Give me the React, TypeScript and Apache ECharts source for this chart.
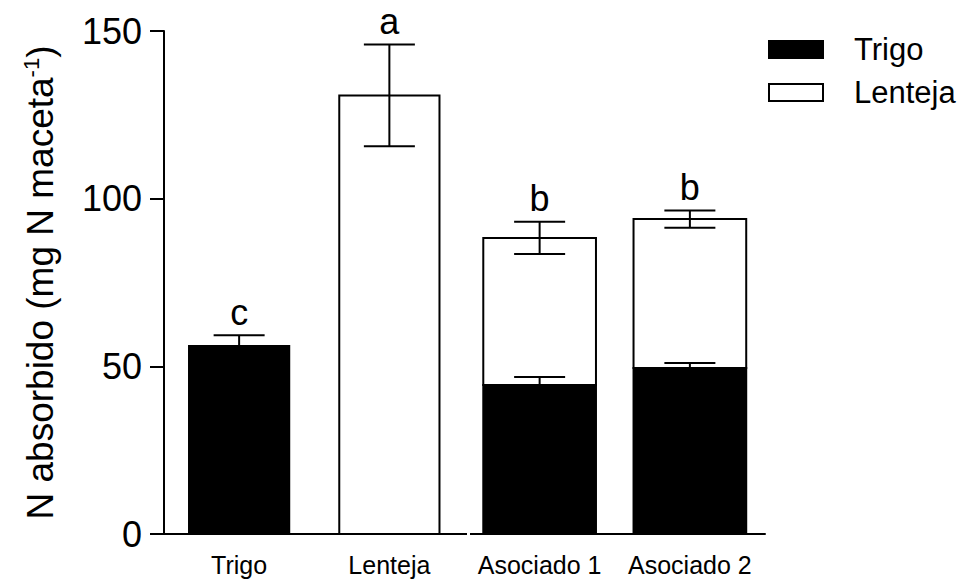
import React, { useEffect, useRef } from "react";
import * as echarts from "echarts";

const categories = ["Trigo", "Lenteja", "Asociado 1", "Asociado 2"];
const trigoValues: (number | null)[] = [56.1, null, 44.4, 49.5];
const trigoErrors: (number | null)[] = [3.2, null, 2.4, 1.5];
const lentejaValues: (number | null)[] = [null, 130.8, 43.9, 44.4];
const lentejaErrors: (number | null)[] = [null, 15.2, 4.8, 2.6];
const letters = ["c", "a", "b", "b"];
const yTicks = [0, 50, 100, 150];

const FONT = "'Liberation Sans', Arial, sans-serif";
const widthFrac = [0.667, 0.667, 0.75, 0.75];

export default function App() {
  const ref = useRef<HTMLDivElement>(null);
  useEffect(() => {
    if (!ref.current) return;
    const chart = echarts.init(ref.current, undefined, { renderer: "svg" });

    const trigoData: number[][] = [];
    const lentejaData: number[][] = [];
    const errData: number[][] = [];
    const letterData: any[] = [];
    categories.forEach((_, i) => {
      const t = trigoValues[i] ?? 0;
      if (trigoValues[i] != null) {
        trigoData.push([i, 0, t]);
        errData.push([i, t, trigoErrors[i] ?? 0]);
      }
      let top = t + (trigoErrors[i] ?? 0);
      if (lentejaValues[i] != null) {
        const tot = t + (lentejaValues[i] as number);
        lentejaData.push([i, t, tot]);
        errData.push([i, tot, lentejaErrors[i] ?? 0]);
        top = tot + (lentejaErrors[i] ?? 0);
      }
      letterData.push([i, top, letters[i]]);
    });

    const barRender = (fill: string) => (params: any, api: any) => {
      const i = api.value(0);
      const p0 = api.coord([i, api.value(1)]);
      const p1 = api.coord([i, api.value(2)]);
      const bw = api.size([1, 0])[0] * widthFrac[i];
      return {
        type: "rect",
        shape: { x: p0[0] - bw / 2, y: p1[1], width: bw, height: p0[1] - p1[1] },
        style: { fill, stroke: "#000", lineWidth: 2 },
      };
    };

    const option: any = {
      animation: false,
      grid: { left: 164, right: 204, top: 31, bottom: 50, containLabel: false, outerBoundsMode: "none" },
      legend: {
        orient: "vertical",
        left: 763,
        top: 29,
        itemWidth: 54,
        itemHeight: 17,
        itemGap: 12,
        textStyle: { fontFamily: FONT, fontSize: 31, color: "#000", padding: [0, 0, 0, 26] },
        data: [
          { name: "Trigo", icon: "rect", itemStyle: { color: "#000", borderColor: "#000", borderWidth: 2 } },
          { name: "Lenteja", icon: "rect", itemStyle: { color: "#fff", borderColor: "#000", borderWidth: 2 } },
        ],
      },
      xAxis: {
        type: "category",
        data: categories,
        axisLine: { lineStyle: { color: "#000", width: 2 } },
        axisTick: { alignWithLabel: true, interval: 0, length: 12, lineStyle: { color: "#000", width: 2 } },
        axisLabel: { fontFamily: FONT, fontSize: 25, color: "#000", margin: 18, interval: 0, hideOverlap: false },
      },
      yAxis: {
        type: "value",
        min: 0,
        max: 150,
        interval: 50,
        splitLine: { show: false },
        axisLine: { show: true, lineStyle: { color: "#000", width: 2 } },
        axisTick: { show: true, length: 14, lineStyle: { color: "#000", width: 2 } },
        axisLabel: {
          fontFamily: FONT,
          fontSize: 36,
          color: "#000",
          margin: 22,
          formatter: (v: number) => (yTicks.includes(v) ? String(v) : ""),
        },
        name: "{n|N absorbido (mg N maceta}{s|-1}{n|)}",
        nameLocation: "middle",
        nameGap: 104,
        nameTextStyle: {
          fontFamily: FONT,
          color: "#000",
          rich: {
            n: { fontFamily: FONT, fontSize: 37, color: "#000", lineHeight: 40 },
            s: { fontFamily: FONT, fontSize: 22, color: "#000", verticalAlign: "top", lineHeight: 22 },
          },
        },
      },
      series: [
        {
          name: "Trigo",
          type: "custom",
          renderItem: barRender("#000"),
          data: trigoData,
          encode: { x: 0, y: [1, 2] },
          itemStyle: { color: "#000" },
          z: 2,
        },
        {
          name: "Lenteja",
          type: "custom",
          renderItem: barRender("#fff"),
          data: lentejaData,
          encode: { x: 0, y: [1, 2] },
          itemStyle: { color: "#fff", borderColor: "#000" },
          z: 3,
        },
        {
          name: "err",
          type: "custom",
          renderItem: (params: any, api: any) => {
            const i = api.value(0);
            const c = api.value(1);
            const e = api.value(2);
            const pt = api.coord([i, c + e]);
            const pb = api.coord([i, c - e]);
            const cap = 51;
            const st = { stroke: "#000", lineWidth: 2 };
            return {
              type: "group",
              children: [
                { type: "line", shape: { x1: pt[0], y1: pt[1], x2: pb[0], y2: pb[1] }, style: st },
                { type: "line", shape: { x1: pt[0] - cap / 2, y1: pt[1], x2: pt[0] + cap / 2, y2: pt[1] }, style: st },
                { type: "line", shape: { x1: pb[0] - cap / 2, y1: pb[1], x2: pb[0] + cap / 2, y2: pb[1] }, style: st },
              ],
            };
          },
          data: errData,
          encode: { x: 0, y: [1, 2] },
          z: 4,
          silent: true,
        },
        {
          name: "letters",
          type: "custom",
          renderItem: (params: any, api: any) => {
            const i = api.value(0);
            const p = api.coord([i, api.value(1)]);
            return {
              type: "text",
              x: p[0],
              y: p[1] - 5,
              style: {
                text: letterData[params.dataIndex][2],
                fontFamily: FONT,
                fontSize: 36,
                fill: "#000",
                align: "center",
                verticalAlign: "bottom",
              },
            };
          },
          data: letterData.map((d) => [d[0], d[1]]),
          encode: { x: 0, y: 1 },
          z: 5,
          silent: true,
        },
        {
          name: "break",
          type: "custom",
          renderItem: (params: any, api: any) => {
            const a = api.coord([1, 0]);
            const b = api.coord([2, 0]);
            const mx = (a[0] + b[0]) / 2 + 4;
            return { type: "rect", shape: { x: mx - 1.5, y: a[1] - 2, width: 3, height: 4 }, style: { fill: "#fff" } };
          },
          data: [[1.5, 0]],
          encode: { x: 0, y: 1 },
          z: 10,
          silent: true,
        },
      ],
    };
    chart.setOption(option);
    return () => chart.dispose();
  }, []);
  return <div ref={ref} style={{ width: 969, height: 584, position: "absolute", left: 0, top: 0, background: "#fff" }} />;
}
